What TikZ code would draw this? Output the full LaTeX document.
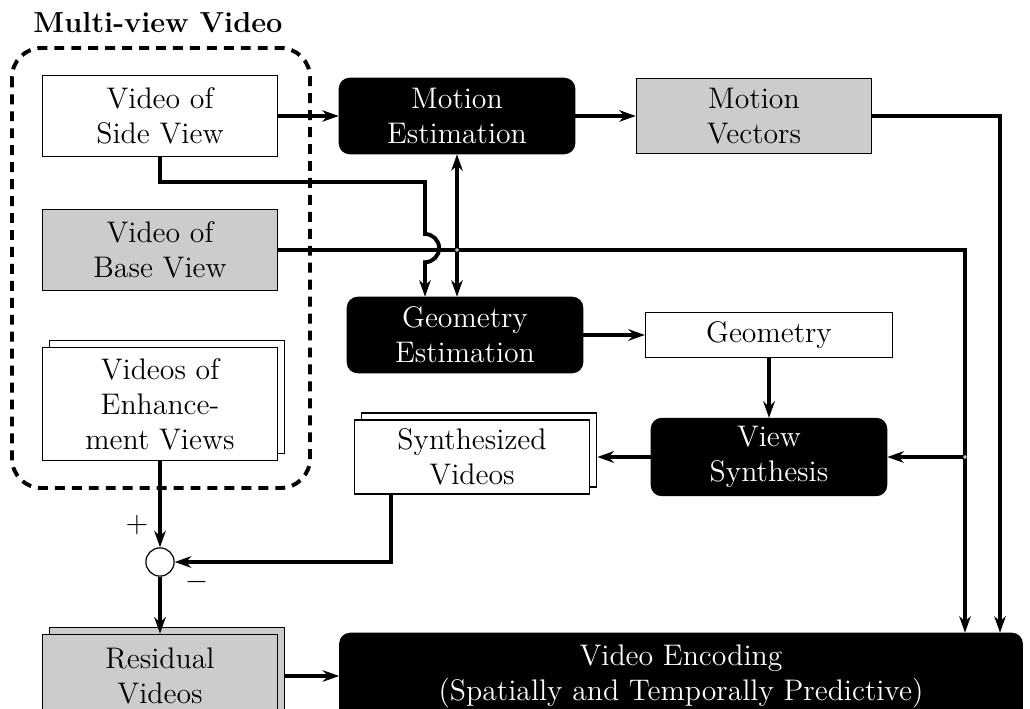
\documentclass[12pt,tikz,border=0pt]{standalone}
\usetikzlibrary{arrows.meta,shadows}
\begin{document}
\begin{tikzpicture}[x=0.017cm, y=-0.017cm, font=\fontsize{14.4}{17}\selectfont,
  >={Stealth[length=8pt,width=5.6pt,inset=2.6pt]},
  box/.style = {draw, line width=0.6pt, fill=white, align=center, minimum width=4cm, minimum height=1.38cm, inner sep=2pt},
  grey/.style = {box, fill=gray!40},
  proc/.style = {box, fill=black, text=white, rounded corners=5pt, minimum height=1.28cm},
  stack/.style = {copy shadow={shadow xshift=0.12cm, shadow yshift=0.12cm}},
  arr/.style = {->, line width=1.9pt},
  dot/.style = {circle, draw=gray, fill=white, inner sep=0.6pt}]
  \useasboundingbox (0,0) rectangle (1030,709);
  % multi-view group
  \node[font=\fontsize{14}{17}\selectfont\bfseries] (title) at (158,23) {Multi-view Video};
  \draw[line width=1.9pt, dash pattern=on 4.8pt off 3.4pt, rounded corners=0.5cm] (12,48) rectangle (310,488);
  \node[box] (side) at (160,116) {Video of\\Side View};
  \node[grey] (base) at (160,250) {Video of\\Base View};
  \node[box, stack, minimum height=1.92cm] (enh) at (160,404) {Videos of\\Enhance-\\ment Views};
  % processing chain
  \node[proc] (me) at (457,116) {Motion\\Estimation};
  \node[grey, minimum height=1.28cm] (mv) at (754,116) {Motion\\Vectors};
  \node[proc] (ge) at (465,335) {Geometry\\Estimation};
  \node[box, minimum width=4.2cm, minimum height=0.76cm] (geo) at (769,335) {Geometry};
  \node[proc, minimum height=1.31cm] (vs) at (769,457) {View\\Synthesis};
  \node[box, stack, minimum height=1.26cm] (syn) at (472,457) {Synthesized\\Videos};
  \node[circle, draw, line width=0.6pt, minimum size=0.48cm] (sum) at (160,562) {};
  \node (plus) at (137,525) {$+$};
  \node (minus) at (197,582) {$-$};
  \node[grey, stack, minimum height=1.42cm] (res) at (160,676) {Residual\\Videos};
  \node[proc, minimum width=11.6cm, minimum height=1.45cm] (enc) at (681,676) {Video Encoding\\(Spatially and Temporally Predictive)};
  \coordinate (j2) at (965,457);
  \coordinate (c1) at (1000,116);
  % connectors
  \draw[arr] (side) -- (me);
  \draw[arr] (me) -- (mv);
  \draw[arr] (side.south) |- (425,182) -- (425,234) arc[start angle=90, end angle=-90, radius=0.24cm] -- (ge.north -| 425,0);
  \draw[arr] (base.east) -| (enc.north -| j2);
  \draw[arr, <->] (me.south) -- (me.south |- ge.north);
  \node[dot] (j1) at (me.south |- base.east) {};
  \draw[arr] (mv.east) -| (enc.north -| c1);
  \draw[arr] (ge) -- (geo);
  \draw[arr] (geo) -- (vs);
  \draw[arr] (j2) -- (vs);
  \node[dot] at (j2) {};
  \draw[arr] (vs.west) -- ([xshift=0.12cm]syn.east);
  \draw[arr] (syn.-155) |- (sum.east);
  \draw[arr] (enh) -- (sum);
  \draw[arr] (sum) -- (res);
  \draw[arr] ([xshift=0.12cm]res.east) -- (enc.west |- res.east);
\end{tikzpicture}
\end{document}
